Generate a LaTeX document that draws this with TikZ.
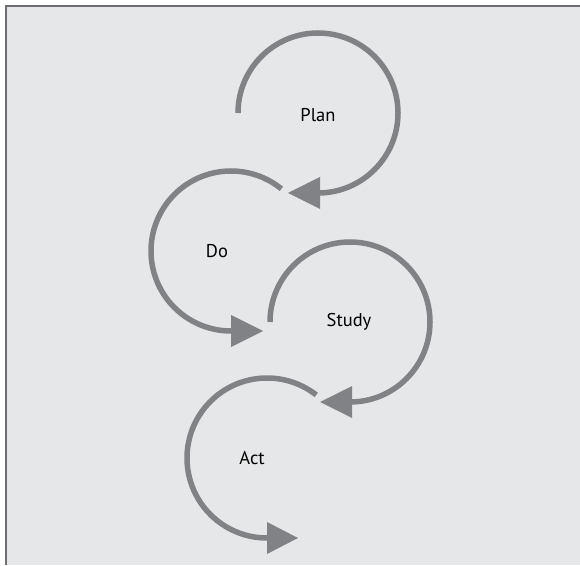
\documentclass[tikz,border=0pt]{standalone}
\usepackage{fontspec}
\setmainfont{PT Sans}
\definecolor{bg}{HTML}{E6E7E8}
\definecolor{arcgray}{HTML}{808285}
\definecolor{framegray}{HTML}{6D6E71}
\begin{document}
\begin{tikzpicture}[x=1pt,y=1pt,
  cyc/.style={draw=arcgray,line width=5.5pt},
  tip/.style={fill=arcgray},
  lbl/.style={font=\fontsize{18.5}{22}\selectfont,text=black}]
\useasboundingbox (0,0) rectangle (580,565);
\fill[bg] (5,0) rectangle (580,560);
\draw[framegray,line width=2pt] (6,0) -- (6,559) -- (580,559);
% centres
\coordinate (cP) at (318,452);
\coordinate (cD) at (231,314);
\coordinate (cS) at (350,243);
\coordinate (cA) at (267,107);
% Plan
\draw[cyc] ([xshift=-80pt]cP) arc[start angle=180,end angle=-90,radius=80];
\fill[tip] ([shift={(2,-64)}]cP) -- ([shift={(2,-96)}]cP) -- ([shift={(-30,-80)}]cP) -- cycle;
% Do
\draw[cyc] (cD) ++(51:80) arc[start angle=51,end angle=270,radius=80];
\fill[tip] ([shift={(0,-64)}]cD) -- ([shift={(0,-96)}]cD) -- ([shift={(32,-80)}]cD) -- cycle;
% Study
\draw[cyc] ([xshift=-80pt]cS) arc[start angle=180,end angle=-90,radius=80];
\fill[tip] ([shift={(2,-64)}]cS) -- ([shift={(2,-96)}]cS) -- ([shift={(-30,-80)}]cS) -- cycle;
% Act
\draw[cyc] (cA) ++(52:80) arc[start angle=52,end angle=270,radius=80];
\fill[tip] ([shift={(0,-64)}]cA) -- ([shift={(0,-96)}]cA) -- ([shift={(31,-80)}]cA) -- cycle;
% labels
\node[lbl] (plan) at (318,450) {Plan};
\node[lbl] (do) at (217,314) {Do};
\node[lbl] (study) at (349,243) {Study};
\node[lbl] (act) at (252,107) {Act};
\end{tikzpicture}
\end{document}
